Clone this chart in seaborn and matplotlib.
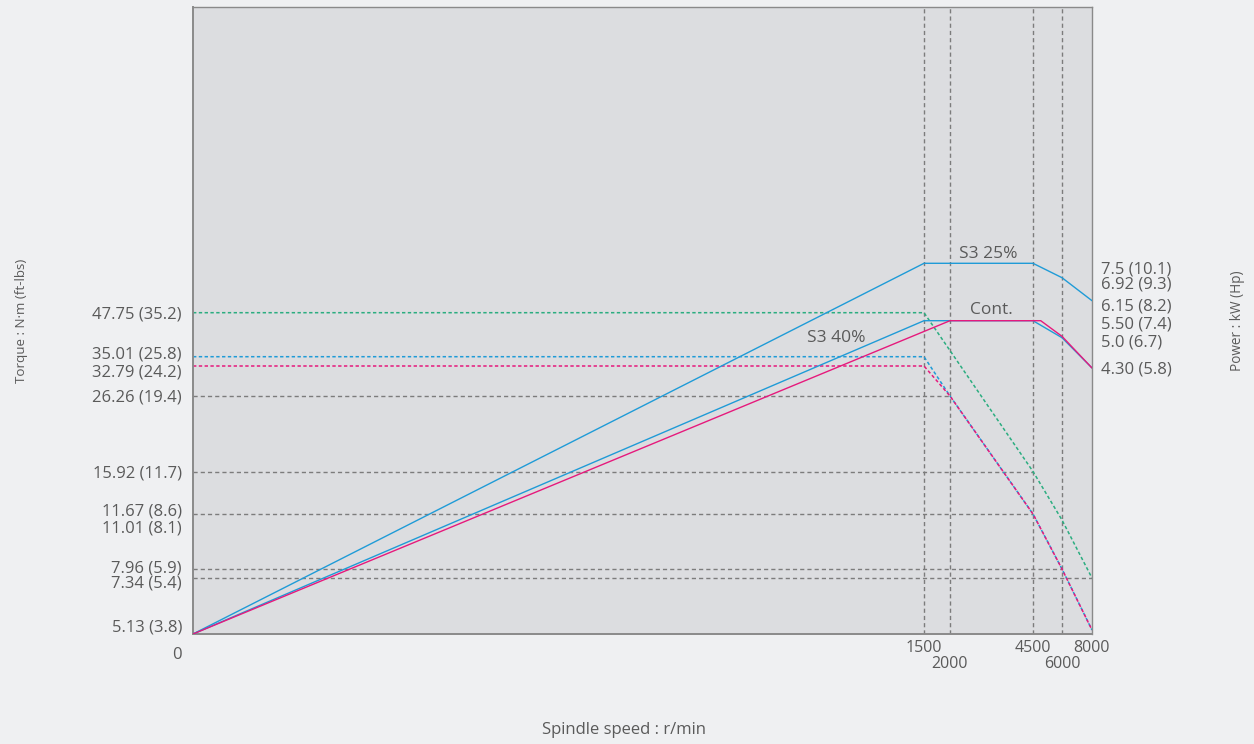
import numpy as np
import pandas as pd
import matplotlib
matplotlib.use("Agg")
import matplotlib.pyplot as plt
import matplotlib.transforms as mtransforms
import seaborn as sns

# ---- data -------------------------------------------------------------
# Power curves (kW) against spindle speed (r/min)
s3_25_speed = [0, 1500, 4500, 6000, 8000]
s3_25_power = [0, 7.5, 7.5, 6.92, 6.15]
s3_40_speed = [0, 1500, 4500, 6000, 8000]
s3_40_power = [0, 5.5, 5.5, 5.0, 4.30]
cont_speed = [0, 2000, 4900, 6000, 8000]
cont_power = [0, 5.5, 5.5, 5.04, 4.30]

# Torque curves (N·m) against spindle speed (r/min)
s3_25_torque_speed = [0, 1500, 4500, 6000, 8000]
s3_25_torque = [47.75, 47.75, 15.92, 11.01, 7.34]
s3_40_torque_speed = [0, 1500, 2000, 4500, 6000, 8000]
s3_40_torque = [35.01, 35.01, 26.26, 11.67, 7.96, 5.13]
cont_torque_speed = [0, 1500, 2000, 4500, 6000, 8000]
cont_torque = [32.79, 32.79, 26.26, 11.67, 7.96, 5.13]

# Guide lines from the torque axis to a point on a curve
ref_torque = [26.26, 15.92, 11.67, 7.96, 7.34]
ref_speed = [2000, 4500, 4500, 6000, 8000]

# Vertical guides at the break speeds
guide_speed = [1500, 2000, 4500, 6000]

# Axis ticks
torque_ticks = [0, 5.13, 7.34, 7.96, 11.01, 11.67, 15.92, 26.26, 32.79, 35.01, 47.75]
torque_labels = ["0", "5.13 (3.8)", "7.34 (5.4)", "7.96 (5.9)", "11.01 (8.1)",
                 "11.67 (8.6)", "15.92 (11.7)", "26.26 (19.4)", "32.79 (24.2)",
                 "35.01 (25.8)", "47.75 (35.2)"]
power_ticks = [4.30, 5.0, 5.50, 6.15, 6.92, 7.5]
power_labels = ["4.30 (5.8)", "5.0 (6.7)", "5.50 (7.4)", "6.15 (8.2)",
                "6.92 (9.3)", "7.5 (10.1)"]
speed_major = [1500, 4500, 8000]
speed_minor = [2000, 6000]

# ---- piecewise axis scales -------------------------------------------
SPEED_KNOTS = ([0, 1500, 2000, 4500, 6000, 8000], [0, 731, 757, 840, 869, 899])
TORQUE_KNOTS = ([0, 5.13, 7.34, 7.96, 11.01, 11.67, 15.92, 26.26, 32.79, 35.01, 47.75, 100],
                [0, 4, 56, 65, 114, 120, 162.5, 238, 268, 277.3, 321.3, 627])
POWER_KNOTS = ([0, 4.30, 5.0, 5.5, 6.15, 6.92, 7.5, 12],
               [0, 266, 296.3, 313.3, 333.3, 356.3, 370.7, 627])


def piecewise(knots):
    v = np.asarray(knots[0], float)
    h = np.asarray(knots[1], float)
    return (lambda x: np.interp(x, v, h)), (lambda y: np.interp(y, h, v))


# ---- style ------------------------------------------------------------
FIG_BG = "#eff0f2"
AX_BG = "#dcdde0"
CYAN = "#1f9bd7"
MAGENTA = "#e6197c"
GREEN = "#2bad80"
GUIDE = "#7c7c7c"
TEXT = "#5a5a5a"
SPINE = "#8a8a8a"

sns.set_style("white")
plt.rcParams["font.family"] = ["Open Sans", "DejaVu Sans"]
plt.rcParams["text.color"] = TEXT
plt.rcParams["axes.labelcolor"] = TEXT
plt.rcParams["xtick.color"] = TEXT
plt.rcParams["ytick.color"] = TEXT
FS = 12

fig = plt.figure(figsize=(12.54, 7.44), dpi=100, facecolor=FIG_BG)
ax = fig.add_axes([193 / 1254, 110 / 744, 899 / 1254, 627 / 744])
ax.set_facecolor(AX_BG)
ax2 = ax.twinx()

ax.set_xscale("function", functions=piecewise(SPEED_KNOTS))
ax.set_yscale("function", functions=piecewise(TORQUE_KNOTS))
ax2.set_yscale("function", functions=piecewise(POWER_KNOTS))

dotted = (0, (2.2, 1.6))
dashed = (0, (3, 2.2))

# guides
for s in guide_speed:
    ax.axvline(s, color=GUIDE, lw=1.0, linestyle=dashed, zorder=1)
ax.hlines(ref_torque, 0, ref_speed, color=GUIDE, lw=1.0, linestyles=[dashed], zorder=1)

# torque curves (dotted)
for sp, tq, col in [(s3_25_torque_speed, s3_25_torque, GREEN),
                    (s3_40_torque_speed, s3_40_torque, CYAN),
                    (cont_torque_speed, cont_torque, MAGENTA)]:
    sns.lineplot(x=sp, y=tq, ax=ax, color=col, lw=1.1, linestyle=dotted,
                 estimator=None, sort=False, zorder=2)

# power curves (solid)
for sp, pw, col in [(s3_25_speed, s3_25_power, CYAN),
                    (s3_40_speed, s3_40_power, CYAN),
                    (cont_speed, cont_power, MAGENTA)]:
    sns.lineplot(x=sp, y=pw, ax=ax2, color=col, lw=1.0,
                 estimator=None, sort=False, zorder=3)

ax.set_xlim(0, 8000)
ax.set_ylim(0, 100)
ax2.set_ylim(0, 12)

# spines
for side in ["left", "bottom", "right", "top"]:
    ax.spines[side].set_visible(True)
    ax.spines[side].set_color(SPINE)
    ax.spines[side].set_linewidth(1.4 if side in ("left", "bottom") else 1.0)
for side in ax2.spines:
    ax2.spines[side].set_visible(False)

# ticks
ax.set_xticks(speed_major)
ax.set_xticklabels([str(v) for v in speed_major])
ax.set_xticks(speed_minor, minor=True)
ax.set_xticklabels([str(v) for v in speed_minor], minor=True)
ax.tick_params(axis="x", which="major", length=0, pad=4.5, labelsize=FS - 0.5)
ax.tick_params(axis="x", which="minor", length=0, pad=16, labelsize=FS - 0.5)

ax.set_yticks(torque_ticks)
ax.set_yticklabels(torque_labels)
ax.yaxis.set_minor_locator(matplotlib.ticker.NullLocator())
ax.tick_params(axis="y", which="both", length=0, pad=8, labelsize=FS)

ax2.set_yticks(power_ticks)
ax2.set_yticklabels(power_labels)
ax2.yaxis.set_minor_locator(matplotlib.ticker.NullLocator())
ax2.tick_params(axis="y", which="both", length=0, pad=6.5, labelsize=FS)

# nudge crowded tick labels apart (offsets in points, + is up)
torque_nudge = [-13.7, 3.6, -2.7, 1.7, -4.8, 3.6, 0, 0, -2.9, 2.7, 0]
power_nudge = [0.7, -1.7, -1.4, -2.4, -3.8, -2.7]
for lab, dy in zip(ax.get_yticklabels(), torque_nudge):
    lab.set_transform(lab.get_transform() +
                      mtransforms.ScaledTranslation(0, dy / 72, fig.dpi_scale_trans))
for lab, dy in zip(ax2.get_yticklabels(), power_nudge):
    lab.set_transform(lab.get_transform() +
                      mtransforms.ScaledTranslation(0, dy / 72, fig.dpi_scale_trans))

# axis titles
ax.set_xlabel("Spindle speed : r/min", fontsize=FS)
ax.xaxis.set_label_coords(0.4794, -0.140)
ax.set_ylabel("Torque : N·m (ft-lbs)", fontsize=9.6)
ax.yaxis.set_label_coords(-0.184, 0.5)
ax2.set_ylabel("Power : kW (Hp)", fontsize=9.8, rotation=90)
ax2.yaxis.set_label_coords(1.153, 0.5)

# curve names
ax2.annotate("S3 25%", xy=(3150, 7.5), xytext=(0, 6.4), textcoords="offset points",
             ha="center", va="center", fontsize=FS + 0.5)
ax2.annotate("Cont.", xy=(3235, 5.5), xytext=(0, 8.0), textcoords="offset points",
             ha="center", va="center", fontsize=FS + 0.5)
ax2.annotate("S3 40%", xy=(1320, 5.0), xytext=(0, 0), textcoords="offset points",
             ha="center", va="center", fontsize=FS + 0.5)

fig.savefig("out.png", dpi=100, facecolor=FIG_BG)
